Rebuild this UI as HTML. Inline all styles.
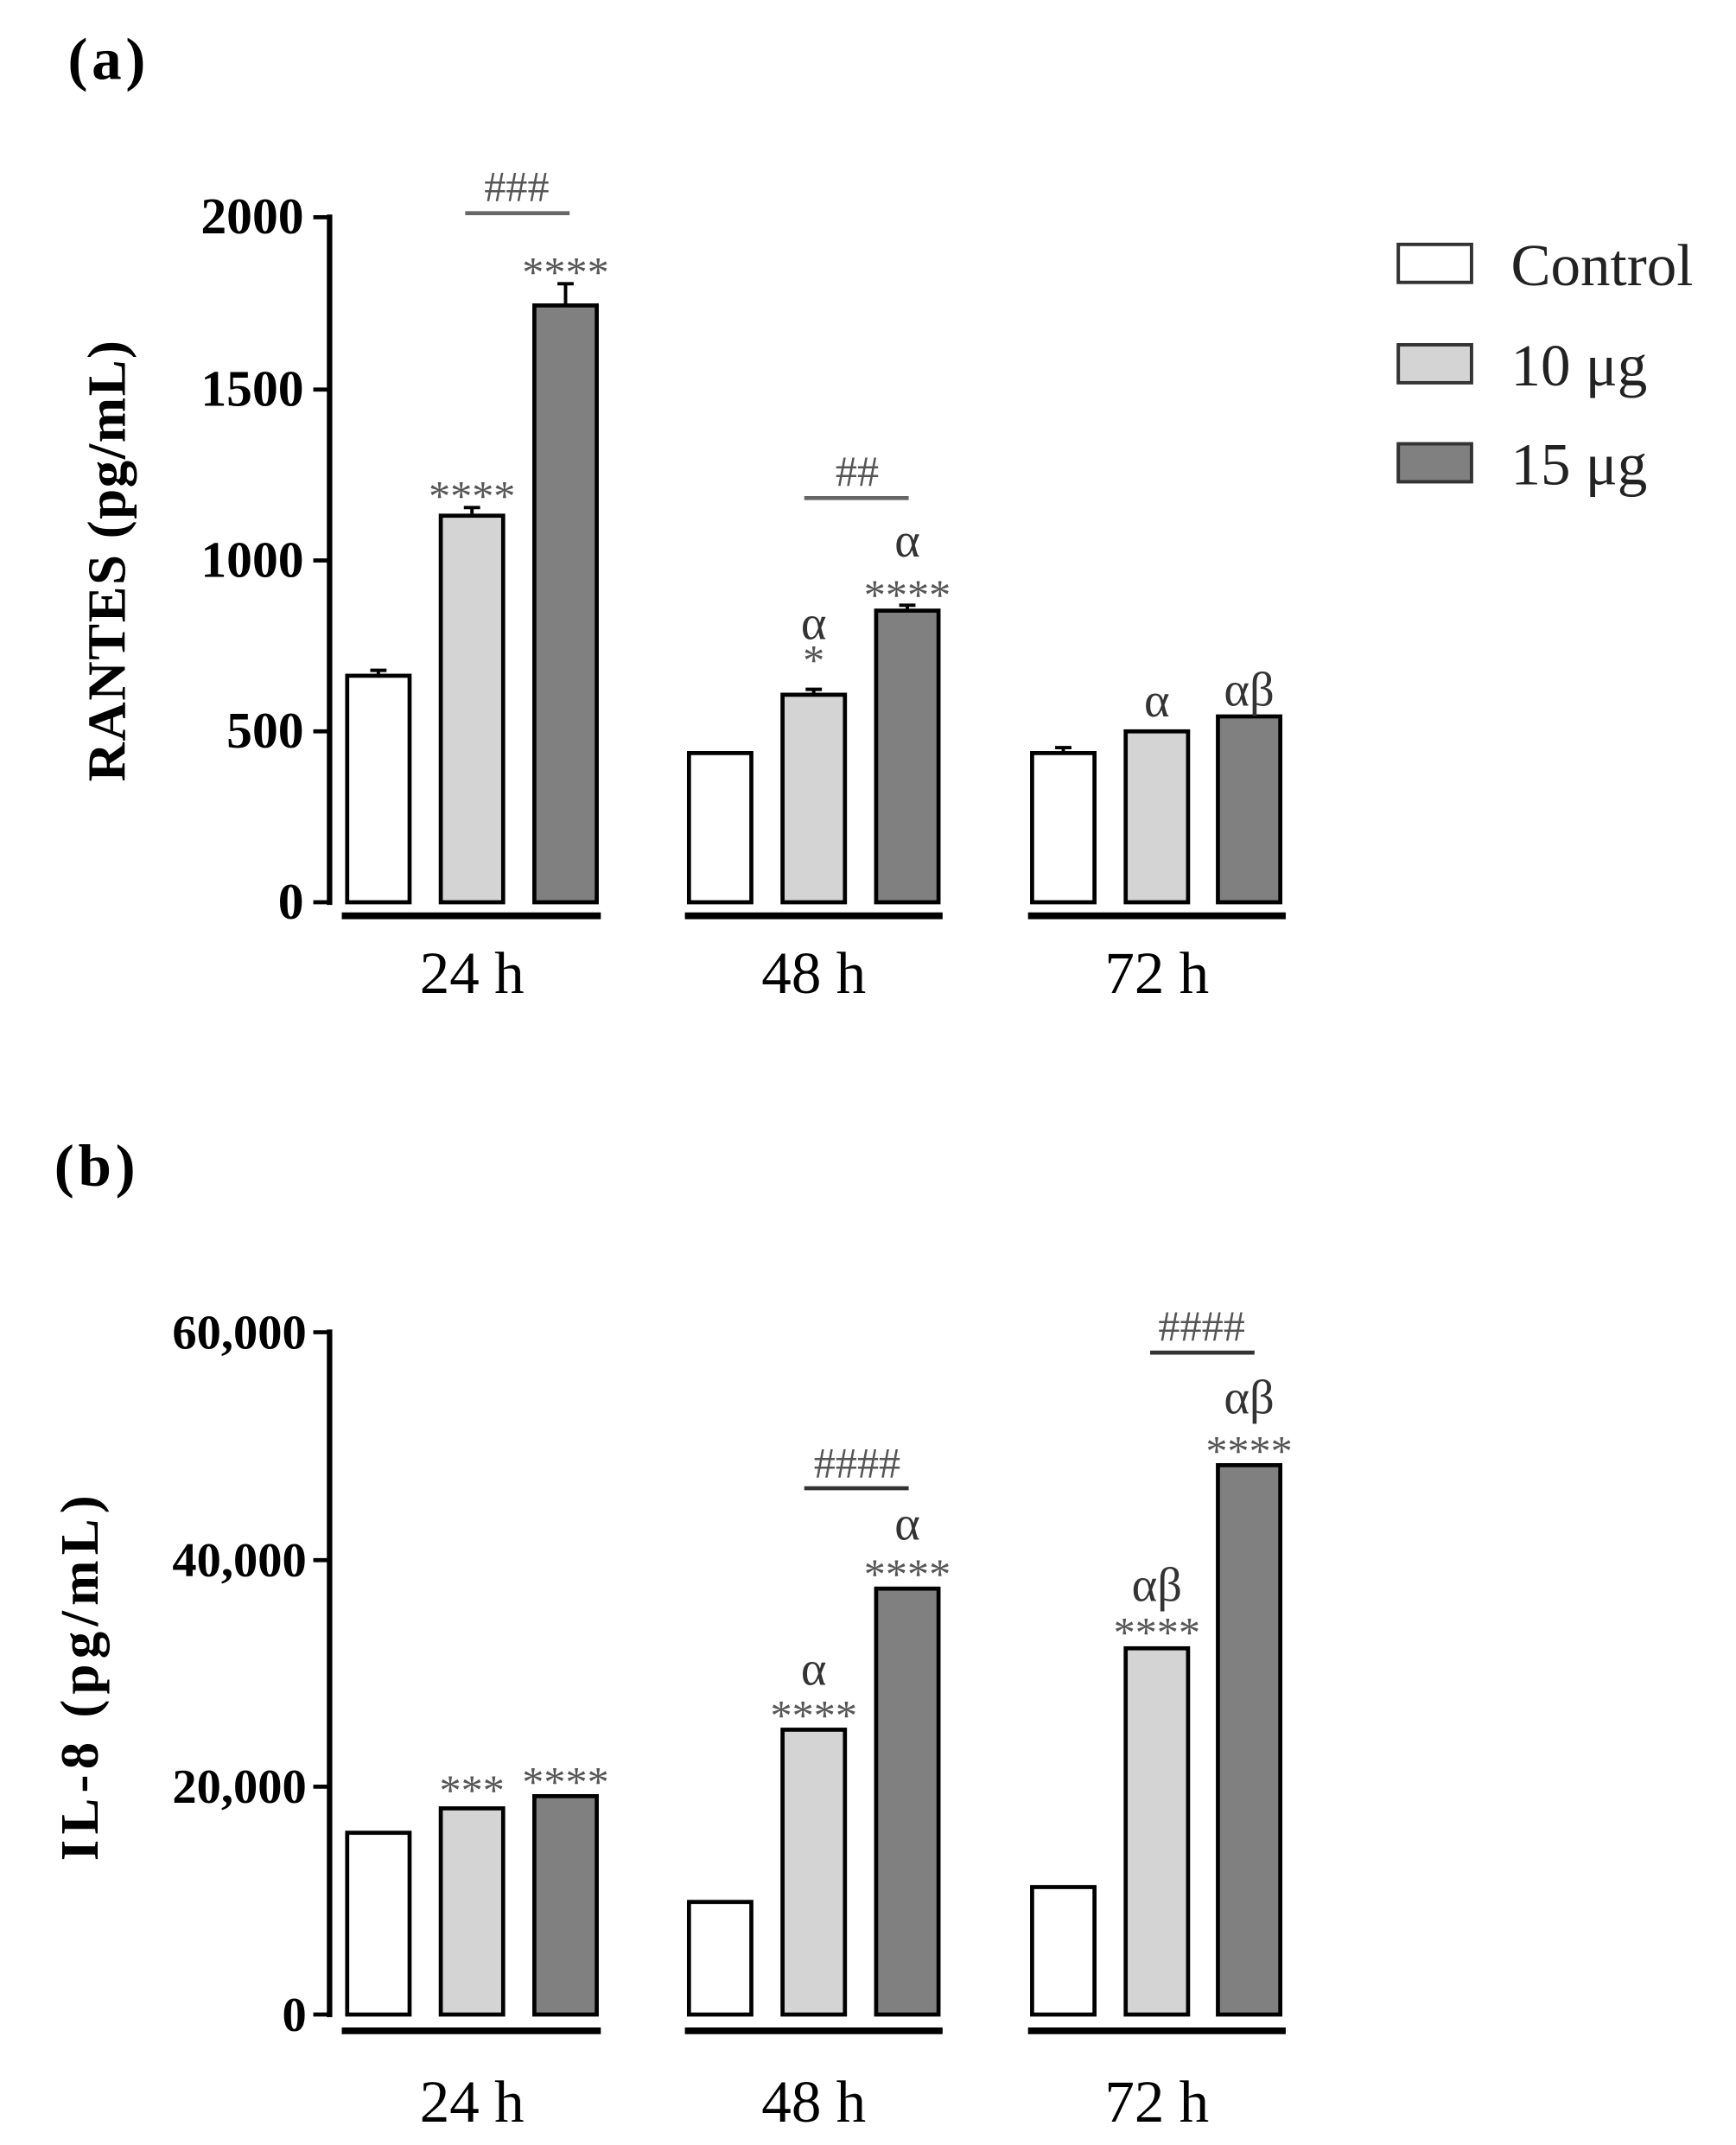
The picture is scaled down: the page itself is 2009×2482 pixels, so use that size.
<!DOCTYPE html>
<html><head><meta charset="utf-8"><style>html,body{margin:0;padding:0;background:#fff}svg{display:block}</style></head>
<body>
<svg width="2009" height="2482" viewBox="0 0 1280 1581" xmlns="http://www.w3.org/2000/svg" font-family="Liberation Serif, serif">
<rect width="1280" height="1581" fill="#fff"/>
<g id="a">
<text x="50" y="58" font-size="44" font-weight="bold" letter-spacing="3">(a)</text>
<text transform="translate(92,413) rotate(-90)" text-anchor="middle" font-size="40" font-weight="bold" letter-spacing="1">RANTES (pg/mL)</text>
<line x1="243" y1="158" x2="243" y2="667" stroke="#000" stroke-width="4"/>
<g stroke="#000" stroke-width="3">
<line x1="231" y1="160" x2="243" y2="160"/><line x1="231" y1="287" x2="243" y2="287"/><line x1="231" y1="413" x2="243" y2="413"/><line x1="231" y1="539" x2="243" y2="539"/><line x1="231" y1="665" x2="243" y2="665"/>
</g>
<g font-size="38" font-weight="bold" text-anchor="end">
<text x="224" y="172">2000</text><text x="224" y="299">1500</text><text x="224" y="425">1000</text><text x="224" y="551">500</text><text x="224" y="677">0</text>
</g>
<g stroke="#000" stroke-width="3">
<rect x="256" y="498" width="46" height="167" fill="#fff"/>
<rect x="325" y="380" width="46" height="285" fill="#d4d4d4"/>
<rect x="394" y="225" width="46" height="440" fill="#808080"/>
<rect x="508" y="555" width="46" height="110" fill="#fff"/>
<rect x="577" y="512" width="46" height="153" fill="#d4d4d4"/>
<rect x="646" y="450" width="46" height="215" fill="#808080"/>
<rect x="761" y="555" width="46" height="110" fill="#fff"/>
<rect x="830" y="539" width="46" height="126" fill="#d4d4d4"/>
<rect x="898" y="528" width="46" height="137" fill="#808080"/>
</g>
<g stroke="#000" stroke-width="2.5">
<line x1="348" y1="380" x2="348" y2="374"/><line x1="342" y1="374" x2="354" y2="374"/>
<line x1="417" y1="225" x2="417" y2="209"/><line x1="411" y1="209" x2="423" y2="209"/>
<line x1="279" y1="498" x2="279" y2="494"/><line x1="273" y1="494" x2="285" y2="494"/>
<line x1="600" y1="512" x2="600" y2="508"/><line x1="594" y1="508" x2="606" y2="508"/>
<line x1="669" y1="450" x2="669" y2="446"/><line x1="663" y1="446" x2="675" y2="446"/>
<line x1="784" y1="555" x2="784" y2="551"/><line x1="778" y1="551" x2="790" y2="551"/>
</g>
<g stroke="#000" stroke-width="5">
<line x1="252" y1="675" x2="443" y2="675"/><line x1="505" y1="675" x2="695" y2="675"/><line x1="758" y1="675" x2="948" y2="675"/>
</g>
<g font-size="44" text-anchor="middle">
<text x="348" y="732">24 h</text><text x="600" y="732">48 h</text><text x="853" y="732">72 h</text>
</g>
<g stroke="#666" stroke-width="3"><line x1="343" y1="157" x2="420" y2="157"/><line x1="593" y1="367" x2="670" y2="367"/></g>
<g font-size="32" fill="#555" text-anchor="middle">
<text x="381" y="148">###</text><text x="632" y="358">##</text>
<text x="348" y="376">****</text><text x="417" y="211">****</text>
<text x="669" y="449">****</text><text x="600" y="497">*</text>
</g>
<g font-size="36" fill="#333" text-anchor="middle">
<text x="600" y="471">α</text><text x="669" y="410">α</text><text x="853" y="528">α</text><text x="921" y="520">αβ</text>
</g>
<g stroke="#333" stroke-width="2.5">
<rect x="1031" y="180" width="54" height="28" fill="#fff"/>
<rect x="1031" y="254" width="54" height="28" fill="#d4d4d4"/>
<rect x="1031" y="327" width="54" height="28" fill="#808080"/>
</g>
<g font-size="44" fill="#222"><text x="1114" y="210">Control</text><text x="1114" y="284">10 μg</text><text x="1114" y="357">15 μg</text></g>
</g>
<g id="b">
<text x="40" y="874" font-size="44" font-weight="bold" letter-spacing="3">(b)</text>
<text transform="translate(72,1235) rotate(-90)" text-anchor="middle" font-size="40" font-weight="bold" letter-spacing="4">IL-8 (pg/mL)</text>
<line x1="243" y1="980" x2="243" y2="1487" stroke="#000" stroke-width="4"/>
<g stroke="#000" stroke-width="3">
<line x1="231" y1="982" x2="243" y2="982"/><line x1="231" y1="1150" x2="243" y2="1150"/><line x1="231" y1="1317" x2="243" y2="1317"/><line x1="231" y1="1485" x2="243" y2="1485"/>
</g>
<g font-size="36" font-weight="bold" text-anchor="end">
<text x="226" y="994">60,000</text><text x="226" y="1162">40,000</text><text x="226" y="1329">20,000</text><text x="226" y="1497">0</text>
</g>
<g stroke="#000" stroke-width="3">
<rect x="256" y="1351" width="46" height="134" fill="#fff"/>
<rect x="325" y="1333" width="46" height="152" fill="#d4d4d4"/>
<rect x="394" y="1324" width="46" height="161" fill="#808080"/>
<rect x="508" y="1402" width="46" height="83" fill="#fff"/>
<rect x="577" y="1275" width="46" height="210" fill="#d4d4d4"/>
<rect x="646" y="1171" width="46" height="314" fill="#808080"/>
<rect x="761" y="1391" width="46" height="94" fill="#fff"/>
<rect x="830" y="1215" width="46" height="270" fill="#d4d4d4"/>
<rect x="898" y="1080" width="46" height="405" fill="#808080"/>
</g>
<g stroke="#000" stroke-width="5">
<line x1="252" y1="1497" x2="443" y2="1497"/><line x1="505" y1="1497" x2="695" y2="1497"/><line x1="758" y1="1497" x2="948" y2="1497"/>
</g>
<g font-size="44" text-anchor="middle">
<text x="348" y="1564">24 h</text><text x="600" y="1564">48 h</text><text x="853" y="1564">72 h</text>
</g>
<g stroke="#333" stroke-width="3"><line x1="593" y1="1097" x2="670" y2="1097"/><line x1="848" y1="997" x2="925" y2="997"/></g>
<g font-size="32" fill="#555" text-anchor="middle">
<text x="632" y="1089">####</text><text x="886" y="988">####</text>
<text x="348" y="1330">***</text><text x="417" y="1324">****</text>
<text x="600" y="1275">****</text><text x="669" y="1171">****</text>
<text x="853" y="1214">****</text><text x="921" y="1080">****</text>
</g>
<g font-size="36" fill="#333" text-anchor="middle">
<text x="600" y="1242">α</text><text x="669" y="1135">α</text><text x="853" y="1180">αβ</text><text x="921" y="1042">αβ</text>
</g>
</g>
</svg>
</body></html>
